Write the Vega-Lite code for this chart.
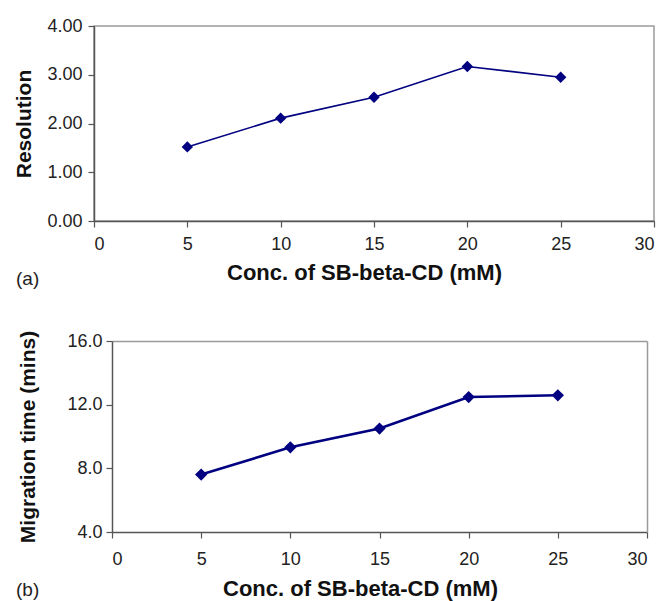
{
  "$schema": "https://vega.github.io/schema/vega-lite/v6.json",
  "background": "white",
  "padding": {"left": 13, "top": 16, "right": 5, "bottom": 1},
  "config": {
    "font": "Liberation Sans",
    "view": {"stroke": "#9a9a9a", "strokeWidth": 1.5},
    "axis": {
      "grid": false,
      "domainColor": "#555555",
      "domainWidth": 1.5,
      "tickColor": "#555555",
      "tickWidth": 1.2,
      "tickSize": 6,
      "labelFont": "Liberation Sans",
      "labelFontSize": 18,
      "labelColor": "#222222",
      "titleFont": "Liberation Sans",
      "titleFontSize": 21,
      "titleFontWeight": "bold",
      "titleColor": "#111111"
    },
    "axisX": {"titleFontSize": 22},
    "title": {"font": "Liberation Sans", "fontSize": 19, "fontWeight": "normal", "color": "#222222", "offset": 0}
  },
  "datasets": {
    "resolution": [
      {"conc": 5, "value": 1.52},
      {"conc": 10, "value": 2.11},
      {"conc": 15, "value": 2.54},
      {"conc": 20, "value": 3.17},
      {"conc": 25, "value": 2.95}
    ],
    "migration": [
      {"conc": 5, "value": 7.61},
      {"conc": 10, "value": 9.32},
      {"conc": 15, "value": 10.5},
      {"conc": 20, "value": 12.48},
      {"conc": 25, "value": 12.59}
    ]
  },
  "vconcat": [
    {
      "width": 560,
      "height": 195,
      "data": {"name": "resolution"},
      "title": {"text": "(a)", "orient": "bottom", "anchor": "start", "frame": "group", "dx": -78, "dy": -17},
      "encoding": {
        "x": {
          "field": "conc", "type": "quantitative",
          "scale": {"domain": [0, 30], "nice": false},
          "axis": {"values": [0, 5, 10, 15, 20, 25, 30], "title": "Conc. of SB-beta-CD (mM)", "labelPadding": 8, "titlePadding": 9, "titleX": 270, "titleAlign": "center"}
        },
        "y": {
          "field": "value", "type": "quantitative",
          "scale": {"domain": [0, 4], "nice": false},
          "axis": {"values": [0, 1, 2, 3, 4], "format": ".2f", "title": "Resolution", "labelPadding": 6, "titlePadding": 12}
        }
      },
      "layer": [
        {"mark": {"type": "line", "color": "#000080", "strokeWidth": 1.6}},
        {"mark": {"type": "point", "shape": "diamond", "filled": true, "size": 130, "color": "#000080", "opacity": 1}}
      ]
    },
    {
      "width": 553,
      "height": 191,
      "view": {"stroke": null},
      "data": {"name": "migration"},
      "title": {"text": "(b)", "orient": "bottom", "anchor": "start", "frame": "group", "dx": -78, "dy": -22},
      "resolve": {"axis": {"x": "independent", "y": "independent"}},
      "layer": [
        {
          "mark": {"type": "line", "color": "#000080", "strokeWidth": 2.6},
          "encoding": {
            "x": {
              "field": "conc", "type": "quantitative",
              "scale": {"domain": [0, 30], "nice": false, "range": [18, 553]},
              "axis": {"orient": "bottom", "values": [0, 5, 10, 15, 20, 25, 30], "title": "Conc. of SB-beta-CD (mM)", "labelPadding": 12, "titlePadding": 10, "titleX": 266, "titleAlign": "center"}
            },
            "y": {
              "field": "value", "type": "quantitative",
              "scale": {"domain": [4, 16], "nice": false},
              "axis": {"orient": "left", "offset": -18, "values": [4, 8, 12, 16], "format": ".1f", "title": "Migration time (mins)", "labelPadding": 4, "titlePadding": 28}
            }
          }
        },
        {
          "mark": {"type": "point", "shape": "diamond", "filled": true, "size": 150, "color": "#000080", "opacity": 1},
          "encoding": {
            "x": {"field": "conc", "type": "quantitative", "scale": {"domain": [0, 30], "nice": false, "range": [18, 553]},
              "axis": {"orient": "top", "labels": false, "ticks": false, "title": null, "domainColor": "#9a9a9a"}},
            "y": {"field": "value", "type": "quantitative", "scale": {"domain": [4, 16], "nice": false},
              "axis": {"orient": "right", "labels": false, "ticks": false, "title": null, "domainColor": "#9a9a9a"}}
          }
        }
      ]
    }
  ],
  "spacing": 40
}
